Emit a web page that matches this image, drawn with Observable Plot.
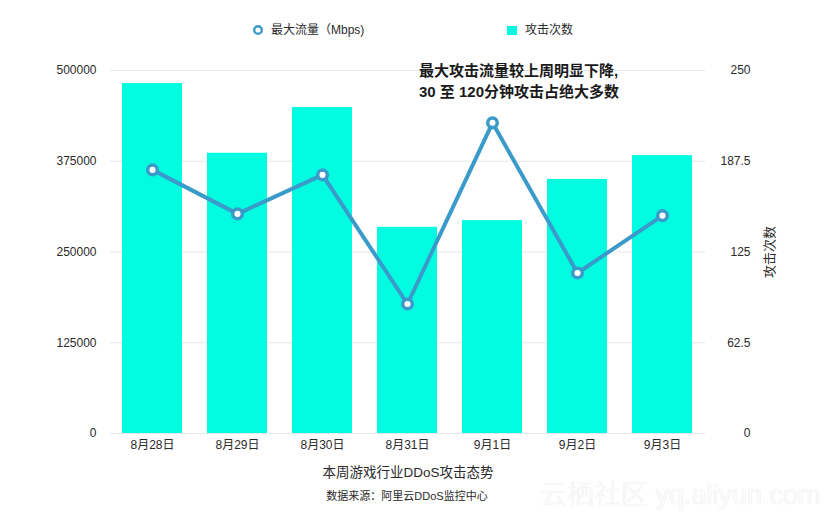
<!DOCTYPE html>
<html>
<head>
<meta charset="utf-8">
<script src="https://cdn.jsdelivr.net/npm/d3@7"></script>
<script src="https://cdn.jsdelivr.net/npm/@observablehq/plot@0.6"></script>
<style>
  html, body { margin: 0; padding: 0; background: #fff; }
  #wrap { position: relative; width: 834px; height: 522px; overflow: hidden;
    font-family: "Liberation Sans", "Noto Sans CJK SC", sans-serif; color: #333; }
  #wrap svg { position: absolute; left: 0; top: 0; }
  .abs { position: absolute; white-space: nowrap; }
</style>
</head>
<body>
<div id="wrap"></div>
<script>
const dates = ["8月28日", "8月29日", "8月30日", "8月31日", "9月1日", "9月2日", "9月3日"];
const maxFlow = [363100, 302500, 356200, 178400, 427900, 221100, 300100]; // Mbps
const attackCount = [241, 193, 224.5, 142, 146.6, 175, 191.4];
const leftTicks = [0, 125000, 250000, 375000, 500000];
const rightTicks = [0, 62.5, 125, 187.5, 250];

const ratio = 500000 / 250;
const data = dates.map((d, i) => ({date: d, flow: maxFlow[i], count: attackCount[i]}));

const barColor = "#02fce2";
const lineColor = "#3a9bcb";

const chart = Plot.plot({
  width: 834,
  height: 522,
  marginTop: 70,
  marginBottom: 89,
  marginLeft: 110,
  marginRight: 129,
  style: {fontSize: "12px", fontFamily: "'Liberation Sans', 'Noto Sans CJK SC', sans-serif", color: "#2a2a2a", background: "transparent"},
  x: {type: "band", domain: dates, paddingInner: 0.294, paddingOuter: 0.147},
  y: {domain: [0, 500000]},
  marks: [
    Plot.gridY(leftTicks, {stroke: "#e6e6e6", strokeOpacity: 1}),
    Plot.barY(data, {x: "date", y: d => d.count * ratio, fill: barColor}),
    Plot.line(data, {x: "date", y: "flow", stroke: lineColor, strokeWidth: 4}),
    Plot.dot(data, {x: "date", y: "flow", r: 4.8, fill: "#fff", stroke: lineColor, strokeWidth: 3.5}),
    Plot.axisY(leftTicks, {anchor: "left", tickSize: 0, tickPadding: 14, tickFormat: d3.format("d"), label: null}),
    Plot.axisY(rightTicks.map(v => v * ratio), {anchor: "right", tickSize: 0, tickPadding: 45, textAnchor: "end", tickFormat: d => String(d / ratio), label: null}),
    Plot.axisX({tickSize: 0, tickPadding: 7, label: null})
  ]
});
const wrap = document.getElementById("wrap");
wrap.appendChild(chart);

function addText(html, style) {
  const el = document.createElement("div");
  el.className = "abs";
  el.innerHTML = html;
  Object.assign(el.style, style);
  wrap.appendChild(el);
  return el;
}

// Legend
addText('<svg width="12" height="12" style="vertical-align:middle"><circle cx="6" cy="6" r="3.8" fill="#fff" stroke="' + lineColor + '" stroke-width="2.4"/></svg>', {left: "252px", top: "24px", lineHeight: "12px"});
addText("最大流量（Mbps)", {left: "271px", top: "22px", fontSize: "12px", lineHeight: "16px", color: "#2a2a2a"});
addText('<div style="width:10px;height:9px;background:' + barColor + '"></div>', {left: "507px", top: "26px"});
addText("攻击次数", {left: "525px", top: "22px", fontSize: "12px", lineHeight: "16px", color: "#2a2a2a"});

// Annotation
addText("最大攻击流量较上周明显下降,<br>30 至 120分钟攻击占绝大多数", {left: "419px", top: "60px", fontSize: "15px", lineHeight: "21px", fontWeight: "bold", color: "#1a1a1a"});

// Right axis title
addText("攻击次数", {left: "770px", top: "252px", fontSize: "13px", lineHeight: "16px", color: "#2a2a2a", transform: "translate(-50%, -50%) rotate(-90deg)"});

// X axis title & caption
addText("本周游戏行业DDoS攻击态势", {left: "408px", top: "464px", fontSize: "13.5px", lineHeight: "18px", color: "#2a2a2a", transform: "translateX(-50%)"});
addText("数据来源：阿里云DDoS监控中心", {left: "407px", top: "488px", fontSize: "11px", lineHeight: "16px", color: "#2a2a2a", transform: "translateX(-50%)"});

// Watermark
addText("云栖社区 yq.aliyun.com", {left: "540px", top: "478px", fontSize: "27px", lineHeight: "34px", color: "#fbfbfb", textShadow: "0 0 1px #dcdcdc", fontWeight: "300"});
</script>
</body>
</html>
